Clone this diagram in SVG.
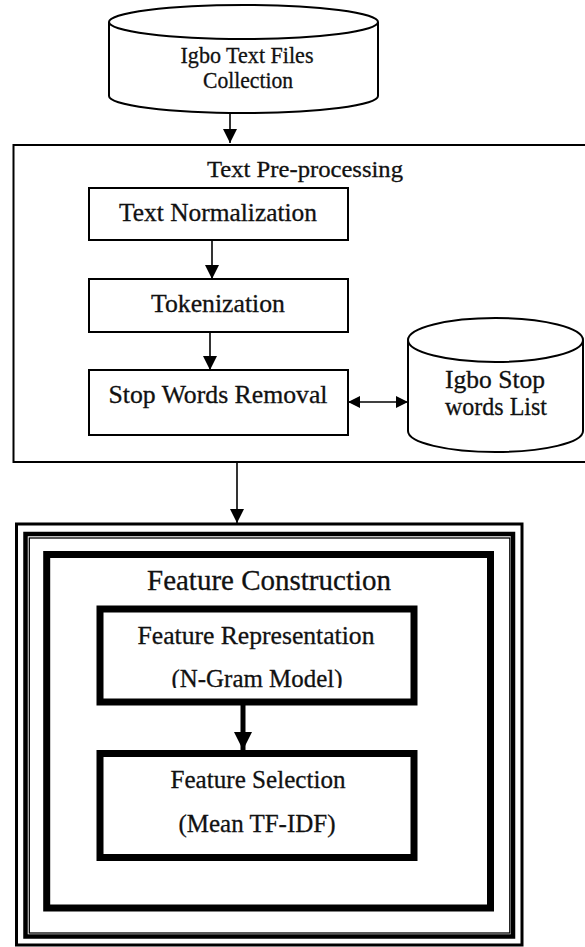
<svg xmlns="http://www.w3.org/2000/svg" width="585" height="947" viewBox="0 0 585 947">
<style>
  .t { fill: #111; stroke: #111; stroke-width: 0.3; text-anchor: middle; }
  .thin { fill: #fff; stroke: #000; stroke-width: 2; }
  .thick { fill: #fff; stroke: #000; stroke-width: 7; }
  .conn { stroke: #000; stroke-width: 1.6; fill: none; }
</style>
<defs>
  <marker id="ah" markerUnits="userSpaceOnUse" markerWidth="14" markerHeight="14" refX="14" refY="7" orient="auto-start-reverse">
    <path d="M0,0 L14,7 L0,14 z" fill="#000"/>
  </marker>
  <marker id="ahs" markerUnits="userSpaceOnUse" markerWidth="12" markerHeight="12" refX="12" refY="6" orient="auto-start-reverse">
    <path d="M0,0 L12,6 L0,12 z" fill="#000"/>
  </marker>
  <marker id="ahb" markerUnits="userSpaceOnUse" markerWidth="18" markerHeight="18" refX="18" refY="9" orient="auto">
    <path d="M0,0 L18,9 L0,18 z" fill="#000"/>
  </marker>
  <clipPath id="repclip"><rect x="100" y="609" width="314" height="79"/></clipPath>
</defs>

<g font-family="'Liberation Serif', 'Times New Roman', 'DejaVu Serif', serif">

<g id="preprocessing">
  <rect class="thin" x="13.5" y="145" width="575" height="317"/>
  <text class="t" x="305" y="177" font-size="24" textLength="196" lengthAdjust="spacingAndGlyphs">Text Pre-processing</text>
</g>

<g id="igbo-text-files">
  <path class="thin" d="M109,22 L109,96 A134.5,17 0 0 0 378,96 L378,22"/>
  <ellipse class="thin" cx="243.5" cy="22" rx="134.5" ry="17"/>
  <text class="t" x="247" y="63" font-size="23" textLength="133" lengthAdjust="spacingAndGlyphs">Igbo Text Files</text>
  <text class="t" x="248" y="88" font-size="23" textLength="90" lengthAdjust="spacingAndGlyphs">Collection</text>
</g>

<g id="text-normalization">
  <rect class="thin" x="89" y="188" width="259" height="52"/>
  <text class="t" x="218" y="221" font-size="24.5" textLength="198" lengthAdjust="spacingAndGlyphs">Text Normalization</text>
</g>

<g id="tokenization">
  <rect class="thin" x="89" y="279" width="259" height="53"/>
  <text class="t" x="218" y="312" font-size="24.5" textLength="134" lengthAdjust="spacingAndGlyphs">Tokenization</text>
</g>

<g id="stop-words-removal">
  <rect class="thin" x="89" y="370" width="259" height="65"/>
  <text class="t" x="218" y="403" font-size="24.5" textLength="219" lengthAdjust="spacingAndGlyphs">Stop Words Removal</text>
</g>

<g id="igbo-stop-words-list">
  <path class="thin" d="M408,340 L408,431 A87.5,21 0 0 0 583,431 L583,340"/>
  <ellipse class="thin" cx="495.5" cy="340" rx="87.5" ry="22"/>
  <text class="t" x="495" y="388" font-size="24.5" textLength="100" lengthAdjust="spacingAndGlyphs">Igbo Stop</text>
  <text class="t" x="496" y="415" font-size="24.5" textLength="102" lengthAdjust="spacingAndGlyphs">words List</text>
</g>

<g id="feature-frame">
  <rect x="16.5" y="524" width="505.5" height="421" fill="#fff" stroke="#000" stroke-width="3"/>
  <rect x="25.5" y="534" width="487.5" height="402.5" fill="none" stroke="#000" stroke-width="4.5"/>
  <rect x="29.3" y="538" width="480.5" height="395" fill="none" stroke="#000" stroke-width="1.3"/>
</g>

<g id="feature-construction">
  <rect class="thick" x="46.7" y="554.5" width="443.8" height="353.5"/>
  <text class="t" x="269" y="590" font-size="29" textLength="244" lengthAdjust="spacingAndGlyphs">Feature Construction</text>
</g>

<g id="feature-representation">
  <rect class="thick" x="100" y="609" width="314" height="93"/>
  <text class="t" x="256" y="644" font-size="25" textLength="237" lengthAdjust="spacingAndGlyphs">Feature Representation</text>
  <text class="t" x="257" y="687" font-size="25" textLength="171" lengthAdjust="spacingAndGlyphs" clip-path="url(#repclip)">(N-Gram Model)</text>
</g>

<g id="feature-selection">
  <rect class="thick" x="100" y="753.5" width="314" height="104"/>
  <text class="t" x="258" y="788" font-size="25" textLength="175" lengthAdjust="spacingAndGlyphs">Feature Selection</text>
  <text class="t" x="257" y="832" font-size="25" textLength="157" lengthAdjust="spacingAndGlyphs">(Mean TF-IDF)</text>
</g>

</g>

<g id="connectors">
  <line class="conn" x1="230" y1="113" x2="230" y2="143" marker-end="url(#ah)"/>
  <line class="conn" x1="212" y1="240" x2="212" y2="279" marker-end="url(#ah)"/>
  <line class="conn" x1="210" y1="332" x2="210" y2="370" marker-end="url(#ah)"/>
  <line class="conn" x1="348" y1="402" x2="408" y2="402" marker-start="url(#ahs)" marker-end="url(#ahs)"/>
  <line class="conn" x1="237" y1="462" x2="237" y2="523" marker-end="url(#ah)"/>
  <line x1="243" y1="705" x2="243" y2="750" stroke="#000" stroke-width="5" marker-end="url(#ahb)"/>
</g>
</svg>
